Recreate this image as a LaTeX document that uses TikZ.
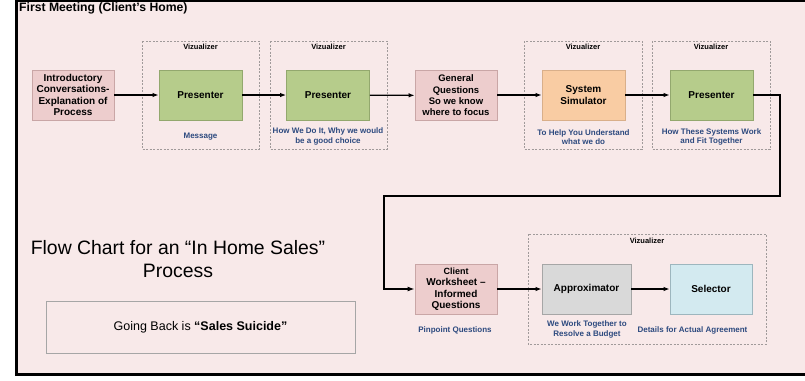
\documentclass[tikz,border=0pt]{standalone}
\usepackage{fontspec}
\setmainfont{Liberation Sans}
\usetikzlibrary{arrows.meta}

\definecolor{pagebg}{HTML}{F8E9E9}
\definecolor{pinkfill}{HTML}{EDCDCD}
\definecolor{pinkline}{HTML}{C9A6A6}
\definecolor{greenfill}{HTML}{B6CC8B}
\definecolor{greenline}{HTML}{93A86E}
\definecolor{orangefill}{HTML}{F9CCA3}
\definecolor{orangeline}{HTML}{D9AF8A}
\definecolor{grayfill}{HTML}{D9D9D9}
\definecolor{grayline}{HTML}{A6A6A6}
\definecolor{bluefill}{HTML}{D3EAF0}
\definecolor{blueline}{HTML}{9DB6BE}
\definecolor{dashline}{HTML}{A09A9A}
\definecolor{captionblue}{HTML}{2D4A7F}

\tikzset{
  stepbox/.style={draw, line width=0.8pt, rectangle, minimum height=50pt,
    minimum width=83pt, inner sep=1pt, align=center,
    font=\bfseries\fontsize{10}{11.5}\selectfont},
  pinkbox/.style={stepbox, fill=pinkfill, draw=pinkline},
  greenbox/.style={stepbox, fill=greenfill, draw=greenline},
  orangebox/.style={stepbox, fill=orangefill, draw=orangeline},
  graybox/.style={stepbox, fill=grayfill, draw=grayline},
  bluebox/.style={stepbox, fill=bluefill, draw=blueline},
  vizframe/.style={draw=dashline, line width=0.6pt, dash pattern=on 2pt off 1.5pt},
  vizlabel/.style={font=\bfseries\fontsize{7.5}{9}\selectfont, inner sep=0pt},
  caption/.style={text=captionblue, align=center, inner sep=0pt,
    font=\bfseries\fontsize{8}{9.5}\selectfont},
  flow/.style={line width=1.3pt, -{Latex[length=6pt,width=4.5pt]}},
  bigflow/.style={line width=2.2pt, line join=miter, -{Latex[length=7pt,width=5pt]}},
}

\begin{document}
\begin{tikzpicture}[x=1pt, y=-1pt]
  \useasboundingbox (0,0) rectangle (805,380);
  % page area with its frame
  \fill[pagebg] (16.5,0.5) rectangle (806,374.5);
  \draw[line width=2.4pt] (806,0.6) -- (16.5,0.6) -- (16.5,374.5) -- (806,374.5);

  \node[anchor=west, font=\bfseries\fontsize{12.2}{14}\selectfont, inner sep=0pt] (title) at (19,8) {First Meeting (Client’s Home)};

  % dashed "Vizualizer" frames
  \draw[vizframe] (142,41) rectangle (259,149);
  \node[vizlabel] (v1) at (200.5,47) {Vizualizer};
  \draw[vizframe] (270,41) rectangle (387,149);
  \node[vizlabel] (v2) at (328.5,47) {Vizualizer};
  \draw[vizframe] (524,41) rectangle (642,149);
  \node[vizlabel] (v3) at (583,47) {Vizualizer};
  \draw[vizframe] (652,41) rectangle (770,149);
  \node[vizlabel] (v4) at (711,47) {Vizualizer};
  \draw[vizframe] (528,234) rectangle (766,344);
  \node[vizlabel] (v5) at (647,241) {Vizualizer};

  % top row
  \node[pinkbox, minimum width=82pt] (intro) at (73,95) {Introductory\\Conversations-\\Explanation of\\Process};
  \node[greenbox] (pres1) at (200.5,95) {Presenter};
  \node[greenbox] (pres2) at (328,95) {Presenter};
  \node[pinkbox, minimum width=82pt, font=\bfseries\fontsize{9.5}{11.3}\selectfont] (general) at (456,95.5) {General\\Questions\\So we know\\where to focus};
  \node[orangebox] (sim) at (583.5,95) {System\\Simulator};
  \node[greenbox] (pres3) at (711.5,95) {Presenter};

  \node[caption] (c1) at (200.5,137) {Message};
  \node[caption] (c2) at (328,136.5) {How We Do It, Why we would\\be a good choice};
  \node[caption] (c3) at (583.5,137) {To Help You Understand\\what we do};
  \node[caption] (c4) at (711.5,137) {How These Systems Work\\and Fit Together};

  % bottom row
  \node[pinkbox, minimum width=82pt] (work) at (456,289) {{\fontsize{9}{11.5}\selectfont Client}\\Worksheet –\\Informed\\Questions};
  \node[graybox, minimum width=89pt] (approx) at (586.5,289) {Approximator};
  \node[bluebox, minimum width=82pt] (select) at (711,289) {Selector};

  \node[caption] (c5) at (455,330) {Pinpoint Questions};
  \node[caption] (c6) at (587,329.5) {We Work Together to\\Resolve a Budget};
  \node[caption] (c7) at (692.5,330) {Details for Actual Agreement};

  % connectors
  \draw[flow] (intro) -- (pres1);
  \draw[flow] (pres1) -- (pres2);
  \draw[flow] (pres2) -- (general);
  \draw[flow] (general.east |- sim) -- (sim);
  \draw[flow] (sim) -- (pres3);
  \coordinate (turnA) at (780,95);
  \coordinate (turnB) at (780,196);
  \coordinate (turnC) at (384,196);
  \coordinate (turnD) at (384,289);
  \draw[bigflow] (pres3.east) -- (turnA) -- (turnB) -- (turnC) -- (turnD) -- (work.west);
  \draw[flow] (work) -- (approx);
  \draw[flow] (approx) -- (select);

  % side notes
  \node[align=center, inner sep=0pt, font=\fontsize{19.4}{23}\selectfont] (heading) at (178,259) {Flow Chart for an “In Home Sales”\\Process};
  \node[draw=grayline, line width=0.7pt, minimum width=309pt, minimum height=52pt, inner sep=0pt,
        font=\fontsize{12.5}{15}\selectfont] (note) at (200.5,327) {Going Back is \textbf{“Sales Suicide”}};
\end{tikzpicture}
\end{document}
